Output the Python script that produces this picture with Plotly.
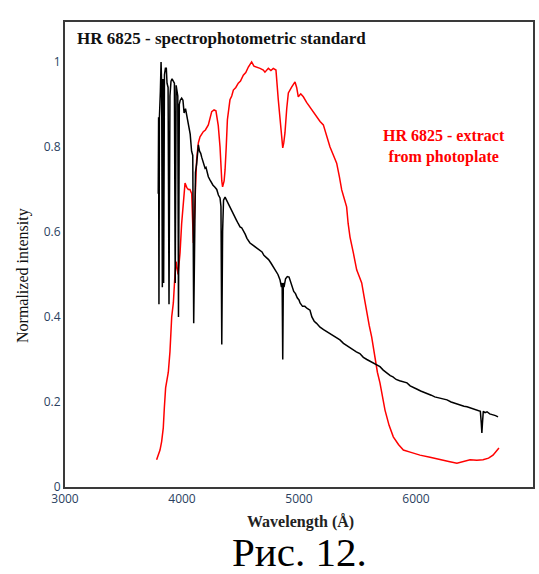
import plotly.graph_objects as go

std_wl = [3797, 3800, 3803, 3807, 3815, 3821, 3826, 3832, 3838, 3843, 3850, 3858, 3866, 3872, 3881,
          3889, 3897, 3906, 3915, 3925, 3935, 3942, 3950, 3958, 3964, 3970, 3977, 3985, 3997, 4008,
          4018, 4030, 4045, 4058, 4070, 4082, 4092, 4100, 4108, 4115, 4125, 4134, 4140, 4150, 4160,
          4168, 4180, 4190, 4197, 4205, 4215, 4225, 4240, 4254, 4265, 4280, 4297, 4311, 4325, 4333,
          4340, 4347, 4355, 4368, 4380, 4395, 4410, 4425, 4436, 4450, 4465, 4480, 4496, 4510, 4521,
          4540, 4555, 4564, 4581, 4600, 4620, 4640, 4667, 4684, 4700, 4720, 4740, 4760, 4778, 4800,
          4820, 4838, 4850, 4856, 4861, 4866, 4872, 4885, 4900, 4915, 4930, 4945, 4955, 4970, 4985,
          5000, 5009, 5030, 5050, 5070, 5094, 5110, 5130, 5150, 5180, 5210, 5240, 5270, 5300, 5330,
          5350, 5380, 5410, 5440, 5462, 5490, 5520, 5550, 5580, 5610, 5632, 5660, 5692, 5720, 5750,
          5780, 5803, 5830, 5860, 5890, 5923, 5950, 5980, 6010, 6040, 6070, 6094, 6130, 6160, 6190,
          6230, 6265, 6300, 6340, 6380, 6410, 6436, 6470, 6500, 6530, 6550, 6558, 6563, 6568, 6575,
          6590, 6607, 6630, 6660, 6680, 6701]
std_int = [0.69, 0.87, 0.43, 0.87, 0.93, 1.00, 0.95, 0.47, 0.96, 0.48, 0.97, 0.985, 0.985, 0.95, 0.94,
           0.43, 0.92, 0.955, 0.96, 0.955, 0.95, 0.48, 0.945, 0.93, 0.92, 0.40, 0.90, 0.91, 0.915, 0.91,
           0.88, 0.89, 0.87, 0.85, 0.83, 0.79, 0.78, 0.385, 0.62, 0.74, 0.76, 0.80, 0.805, 0.79, 0.785,
           0.776, 0.765, 0.758, 0.75, 0.752, 0.74, 0.73, 0.722, 0.715, 0.71, 0.706, 0.70, 0.687, 0.68, 0.66,
           0.335, 0.60, 0.675, 0.682, 0.675, 0.665, 0.659, 0.65, 0.645, 0.635, 0.628, 0.62, 0.612, 0.61, 0.605,
           0.595, 0.585, 0.58, 0.574, 0.57, 0.566, 0.562, 0.558, 0.553, 0.545, 0.54, 0.535, 0.527, 0.518, 0.51,
           0.50, 0.487, 0.47, 0.48, 0.30, 0.48, 0.47, 0.49, 0.495, 0.494, 0.48, 0.47, 0.46, 0.455, 0.445,
           0.44, 0.433, 0.425, 0.425, 0.42, 0.416, 0.40, 0.39, 0.385, 0.376, 0.37, 0.365, 0.36, 0.355, 0.35,
           0.346, 0.338, 0.332, 0.327, 0.322, 0.318, 0.314, 0.305, 0.30, 0.295, 0.291, 0.287, 0.283, 0.275, 0.268,
           0.262, 0.259, 0.253, 0.25, 0.247, 0.245, 0.238, 0.233, 0.23, 0.226, 0.223, 0.221, 0.216, 0.212, 0.21,
           0.207, 0.205, 0.20, 0.196, 0.193, 0.19, 0.189, 0.186, 0.184, 0.181, 0.178, 0.15, 0.127, 0.15, 0.178,
           0.175, 0.177, 0.172, 0.17, 0.168, 0.165]

plate_wl = [3783, 3812, 3826, 3840, 3849, 3860, 3883, 3897, 3912, 3926, 3940, 3950, 3966, 3983, 3997,
            4012, 4026, 4040, 4054, 4068, 4083, 4097, 4111, 4125, 4140, 4154, 4182, 4200, 4225, 4240,
            4254, 4274, 4290, 4310, 4325, 4340, 4347, 4360, 4368, 4378, 4388, 4410, 4425, 4439, 4460,
            4481, 4500, 4524, 4545, 4567, 4595, 4615, 4638, 4667, 4695, 4709, 4738, 4760, 4780, 4803,
            4823, 4843, 4861, 4870, 4880, 4895, 4909, 4937, 4966, 4980, 4994, 5015, 5037, 5065, 5094,
            5120, 5151, 5180, 5208, 5235, 5265, 5295, 5322, 5345, 5365, 5385, 5407, 5420, 5436, 5465,
            5493, 5515, 5536, 5558, 5578, 5600, 5621, 5650, 5670, 5692, 5718, 5735, 5770, 5806, 5850,
            5892, 5950, 6034, 6120, 6205, 6280, 6350, 6410, 6462, 6520, 6573, 6620, 6658, 6709]
plate_int = [0.064, 0.087, 0.107, 0.139, 0.186, 0.233, 0.27, 0.318, 0.40, 0.433, 0.50, 0.53, 0.50, 0.55, 0.62,
             0.68, 0.715, 0.705, 0.70, 0.70, 0.69, 0.574, 0.675, 0.77, 0.81, 0.824, 0.836, 0.84, 0.852, 0.87,
             0.883, 0.887, 0.885, 0.85, 0.80, 0.72, 0.706, 0.72, 0.746, 0.80, 0.864, 0.911, 0.92, 0.934, 0.94,
             0.95, 0.955, 0.969, 0.975, 0.988, 1.0, 0.99, 0.988, 0.985, 0.981, 0.976, 0.985, 0.98, 0.985, 0.981,
             0.911, 0.856, 0.798, 0.81, 0.833, 0.89, 0.927, 0.941, 0.953, 0.94, 0.918, 0.925, 0.918, 0.905, 0.894,
             0.882, 0.871, 0.86, 0.852, 0.825, 0.80, 0.78, 0.762, 0.73, 0.699, 0.68, 0.659, 0.62, 0.588, 0.55,
             0.511, 0.495, 0.48, 0.445, 0.409, 0.38, 0.353, 0.299, 0.27, 0.245, 0.205, 0.181, 0.145, 0.118, 0.10,
             0.087, 0.082, 0.075, 0.07, 0.064, 0.06, 0.056, 0.06, 0.064, 0.063, 0.064, 0.068, 0.075, 0.092]

SERIF = "Liberation Serif, Times New Roman, serif"
L, R, T, B = 65, 6, 22, 87
FRAME = "#3a3a3a"

fig = go.Figure()
fig.add_trace(go.Scatter(x=plate_wl, y=plate_int, mode="lines",
                         line=dict(color="#ff0000", width=1.5), showlegend=False))
fig.add_trace(go.Scatter(x=std_wl, y=std_int, mode="lines",
                         line=dict(color="#000000", width=1.5), showlegend=False))
fig.update_xaxes(range=[3000, 7000], showline=True, mirror=True, linecolor=FRAME, linewidth=2)
fig.update_yaxes(range=[0, 1.094], showline=True, mirror=True, linecolor=FRAME, linewidth=2)

H = 574 - T - B
W = 539 - L - R
def px(x):
    return (x - L) / W
def py(y):
    return (574 - B - y) / H

annotations = [
    dict(text="<b>HR 6825 - spectrophotometric standard</b>", x=px(75), y=py(39),
         xanchor="left", yanchor="middle", font=dict(family=SERIF, size=17, color="#111111")),
    dict(text="<b>HR 6825 - extract<br>from photoplate</b>", x=px(444), y=py(146),
         xanchor="center", yanchor="middle", align="center",
         font=dict(family=SERIF, size=16, color="#ff0000")),
    dict(text="Normalized intensity", x=px(23), y=py(276), textangle=-90,
         xanchor="center", yanchor="middle", font=dict(family=SERIF, size=16, color="#111111")),
    dict(text="<b>Wavelength (Å)</b>", x=px(300), y=py(522),
         xanchor="center", yanchor="middle", font=dict(family=SERIF, size=16, color="#222222")),
    dict(text="Рис. 12.", x=px(299), y=py(552),
         xanchor="center", yanchor="middle", font=dict(family=SERIF, size=41, color="#000000")),
]
for a in annotations:
    a.update(xref="paper", yref="paper", showarrow=False)
fig.update_layout(annotations=annotations)

fig.update_layout(width=539, height=574, margin=dict(l=L, r=R, t=T, b=B, autoexpand=False),
                  paper_bgcolor="white", plot_bgcolor="white", showlegend=False)

fig.write_html("out.html", config={"displayModeBar": False},
               post_script="document.body.style.margin='0px';document.body.style.overflow='hidden';")
